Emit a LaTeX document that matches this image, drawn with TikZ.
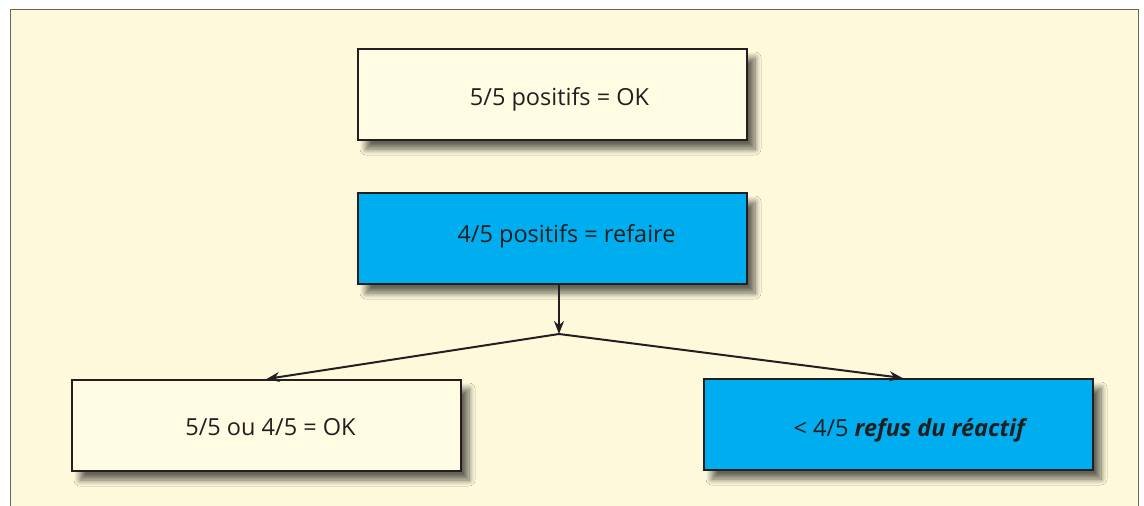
\documentclass[tikz,border=0pt]{standalone}
\usepackage{fontspec}
\setmainfont{Open Sans}
\usetikzlibrary{arrows.meta,shadows.blur}

\definecolor{panel}{HTML}{FEF9DB}
\definecolor{boxcream}{HTML}{FFFCE3}
\definecolor{cyanbox}{HTML}{00ADEE}
\definecolor{inkline}{HTML}{231F20}

\tikzset{
  result/.style={draw=inkline, line width=2pt, fill=boxcream,
    minimum width=389pt, minimum height=91pt, inner sep=0pt,
    text height=17pt, text depth=5pt,
    font=\fontsize{23.5}{28}\selectfont, text=inkline,
    blur shadow={shadow xshift=8pt, shadow yshift=-9pt, shadow blur steps=10, shadow blur radius=6pt, shadow opacity=60}},
  retest/.style={result, fill=cyanbox},
  link/.style={draw=inkline, line width=2pt},
}

\begin{document}
\begin{tikzpicture}[x=1pt, y=-1pt]
        % Page and panel
        \useasboundingbox (0,0) rectangle (1144,506);
        \fill[white] (0,0) rectangle (1144,506);
        \filldraw[fill=panel, draw=gray!80!black, line width=1pt] (10,506) -- (10,9) -- (1138,9) -- (1138,506);

        % Boxes
        \node[result] (ok)     at (552.5,94.5) {\raisebox{-5pt}{\hspace*{14pt}5/5 positifs = OK}};
        \node[retest] (redo)   at (552.5,238.5) {\raisebox{2pt}{\hspace*{28pt}4/5 positifs = refaire}};
        \node[result] (okbis)  at (266.5,425.5) {\raisebox{-4pt}{\hspace*{8pt}5/5 ou 4/5 = OK}};
        \node[retest] (refus)  at (898.5,424.5) {\raisebox{-6pt}{\hspace*{24pt}< 4/5 \textbf{\textit{refus du réactif}}}};

        % Junction under the retest box
        \coordinate (split) at (559,334);

        % Connectors
        \draw[link, -{Stealth[length=13pt,width=10pt]}] (redo.south -| split) -- (split);
        \draw[link, -{Stealth[length=13pt,width=10pt]}] (split) -- (okbis.north);
        \draw[link, -{Stealth[length=13pt,width=10pt]}] (split) -- ([xshift=4pt]refus.north);

      \end{tikzpicture}
\end{document}
